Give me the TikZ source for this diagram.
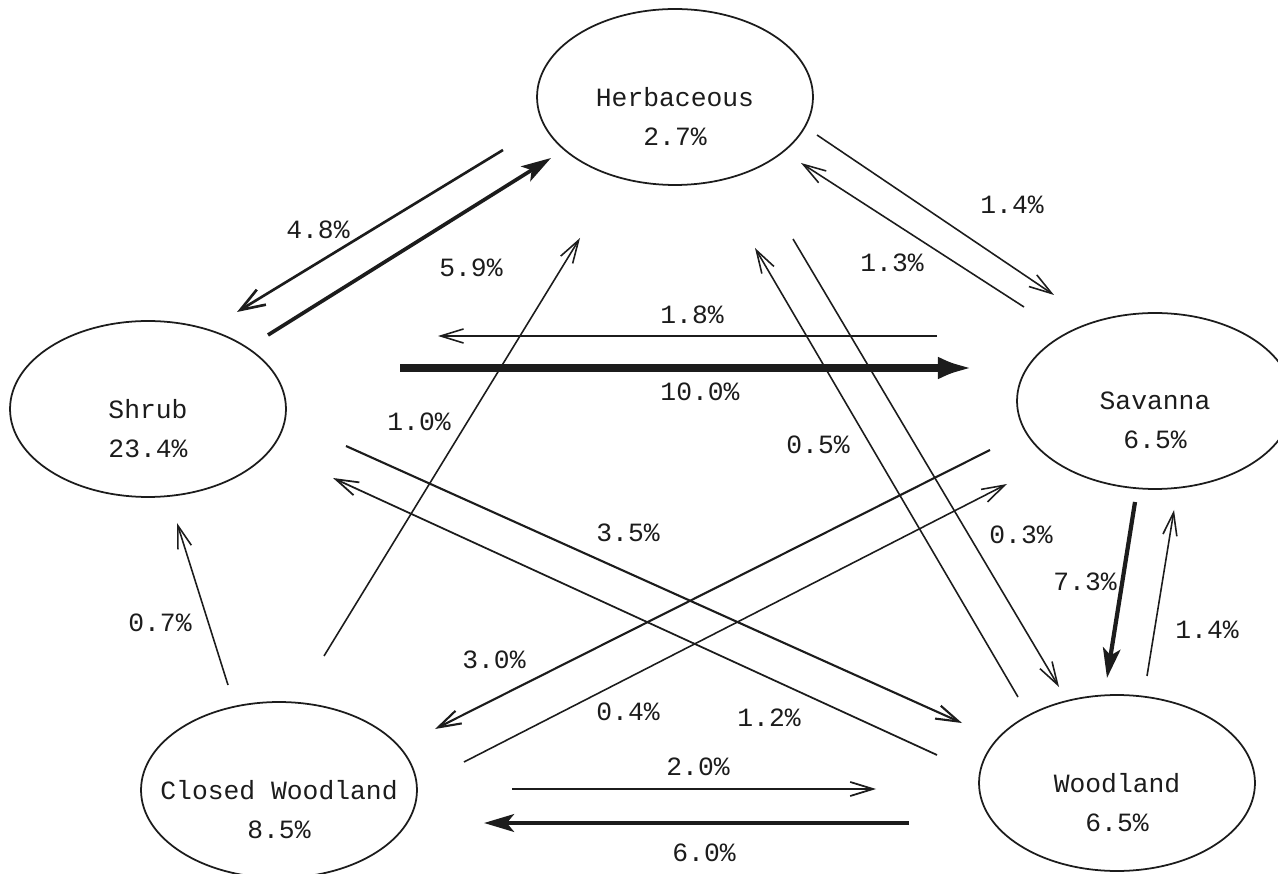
\documentclass[tikz,border=0pt]{standalone}
\usepackage{fontspec}
\setmonofont{Liberation Mono}
\usepackage{tikz}
\usetikzlibrary{arrows.meta,shapes.geometric,calc}
\usepackage{xcolor}
\definecolor{ink}{RGB}{28,28,28}
\tikzset{
  state/.style={ellipse,draw=ink,line width=1pt,minimum width=5.52cm,
                minimum height=3.52cm,inner sep=0pt},
  stname/.style={align=center,inner sep=0pt,text=ink},
  pct/.style={inner sep=0pt,text=ink},
  flow/.style={-{Straight Barb[length=13pt,width=8pt]},draw=ink,line width=#1},
  flow/.default=.9pt,
  heavy/.style={-{Stealth[length=17pt,width=10pt,inset=4pt]},draw=ink,line width=#1},
  heavy/.default=2.4pt,
}

\begin{document}
\begin{tikzpicture}[x=0.02cm,y=-0.02cm,font=\ttfamily\fontsize{15}{22}\selectfont]
  \useasboundingbox (0,0) rectangle (1278,874);
  % land cover classes
  \node[state] (herb) at (675,97) {};
  \node[state] (shrub) at (148,409) {};
  \node[state] (sav) at (1155,401) {};
  \node[state] (cwood) at (279,790) {};
  \node[state] (wood) at (1117,783) {};
  \foreach \s/\t in {herb/Herbaceous\\2.7\%,shrub/Shrub\\23.4\%,sav/Savanna\\6.5\%,
      cwood/Closed Woodland\\8.5\%,wood/Woodland\\6.5\%}
    \node[stname] (\s txt) at ([yshift=-11pt]\s.center) {\t};
  % arrow ends
  \foreach \n/\p in {hsA/{503,150},hsB/{237,312},shA/{268,335},shB/{551,158},
      hvA/{817,135},hvB/{1054,295},vhA/{1024,307},vhB/{801,163},
      vsA/{937,336},vsB/{438,336},svA/{400,368},svB/{973,368},
      chA/{324,656},chB/{580,238},whA/{1018,697},whB/{755,248},
      hwA/{793,239},hwB/{1059,687},vwA/{1135,502},vwB/{1107,678},
      wvA/{1147,676},wvB/{1174,510},csA/{228,685},csB/{177,523},
      swA/{346,446},swB/{962,723},wsA/{937,755},wsB/{333,478},
      vcA/{990,450},vcB/{435,729},cvA/{464,762},cvB/{1007,484},
      cwA/{512,789},cwB/{876,789},wcA/{909,823},wcB/{484,823}}
    \coordinate (\n) at (\p);
  % transitions
  \foreach \a/\b in {hvA/hvB,vhA/vhB,vsA/vsB,chA/chB,whA/whB,hwA/hwB,wvA/wvB,csA/csB,cvA/cvB}
    \draw[flow] (\a) -- (\b);
  \draw[flow=1pt] (wsA) -- (wsB);
  \draw[flow=1pt] (cwA) -- (cwB);
  \draw[flow=1.2pt] (swA) -- (swB);
  \draw[flow=1.2pt] (vcA) -- (vcB);
  \draw[flow=1.5pt,-{Straight Barb[length=14pt,width=10pt]}] (hsA) -- (hsB);
  \draw[heavy=2.1pt] (shA) -- (shB);
  \draw[heavy] (vwA) -- (vwB);
  \draw[heavy=2.6pt] (wcA) -- (wcB);
  \draw[heavy=4pt,-{Latex[length=20pt,width=13pt]}] (svA) -- (svB);
  % rates
  \foreach \n/\p/\t in {p48/{318,230}/4.8,p59/{471,268}/5.9,p14a/{1012,205}/1.4,
      p13/{892,263}/1.3,p18/{692,315}/1.8,p100/{700,392}/10.0,p10/{419,422}/1.0,
      p05/{818,445}/0.5,p03/{1021,535}/0.3,p73/{1085,582}/7.3,p14b/{1207,630}/1.4,
      p07/{160,623}/0.7,p35/{628,533}/3.5,p12/{769,718}/1.2,p30/{494,660}/3.0,
      p04/{628,712}/0.4,p20/{698,767}/2.0,p60/{704,853}/6.0}
    \node[pct] (\n) at (\p) {\t\%};
\end{tikzpicture}
\end{document}
